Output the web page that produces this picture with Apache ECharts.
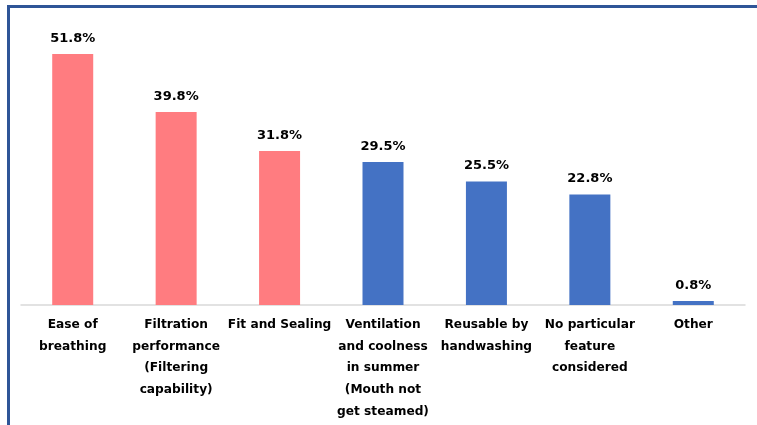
<!DOCTYPE html>
<html>
<head>
<meta charset="utf-8">
<script src="https://cdn.jsdelivr.net/npm/echarts@6/dist/echarts.min.js"></script>
<style>
  html, body { margin: 0; padding: 0; background: #fff; }
  #chart { width: 757px; height: 425px; }
</style>
</head>
<body>
<div id="chart"></div>
<script>
// Mask features people consider when choosing a mask (% of respondents)
const categories = [
  'Ease of\nbreathing',
  'Filtration\nperformance\n(Filtering\ncapability)',
  'Fit and Sealing',
  'Ventilation\nand coolness\nin summer\n(Mouth not\nget steamed)',
  'Reusable by\nhandwashing',
  'No particular\nfeature\nconsidered',
  'Other'
];
const values = [51.8, 39.8, 31.8, 29.5, 25.5, 22.8, 0.8];
// first three features are highlighted
const highlighted = [true, true, true, false, false, false, false];

const PINK = '#FF7C80';
const BLUE = '#4472C4';
const FONT = '"DejaVu Sans", Verdana, sans-serif';

const chart = echarts.init(document.getElementById('chart'));
chart.setOption({
  animation: false,
  graphic: [{
    type: 'rect',
    shape: { x: 8.5, y: 6.5, width: 800, height: 500 },
    style: { fill: 'none', stroke: '#2F5597', lineWidth: 3 },
    silent: true
  }],
  grid: { left: 21, right: 12, top: 14.2, bottom: 120, containLabel: false },
  xAxis: {
    type: 'category',
    data: categories,
    axisLine: { lineStyle: { color: '#D9D9D9', width: 1.5 } },
    axisTick: { show: false },
    axisLabel: {
      interval: 0,
      margin: 9,
      color: '#000',
      fontFamily: FONT,
      fontWeight: 'bold',
      fontSize: 12.2,
      lineHeight: 21.7
    }
  },
  yAxis: {
    type: 'value',
    min: 0,
    max: 60,
    show: false,
    splitLine: { show: false }
  },
  series: [{
    type: 'bar',
    barWidth: 41,
    data: values.map((v, i) => ({
      value: v,
      itemStyle: { color: highlighted[i] ? PINK : BLUE }
    })),
    label: {
      show: true,
      position: 'top',
      distance: 9,
      color: '#000',
      fontFamily: FONT,
      fontWeight: 'bold',
      fontSize: 13,
      formatter: p => p.value.toFixed(1) + '%'
    }
  }]
});
</script>
</body>
</html>
